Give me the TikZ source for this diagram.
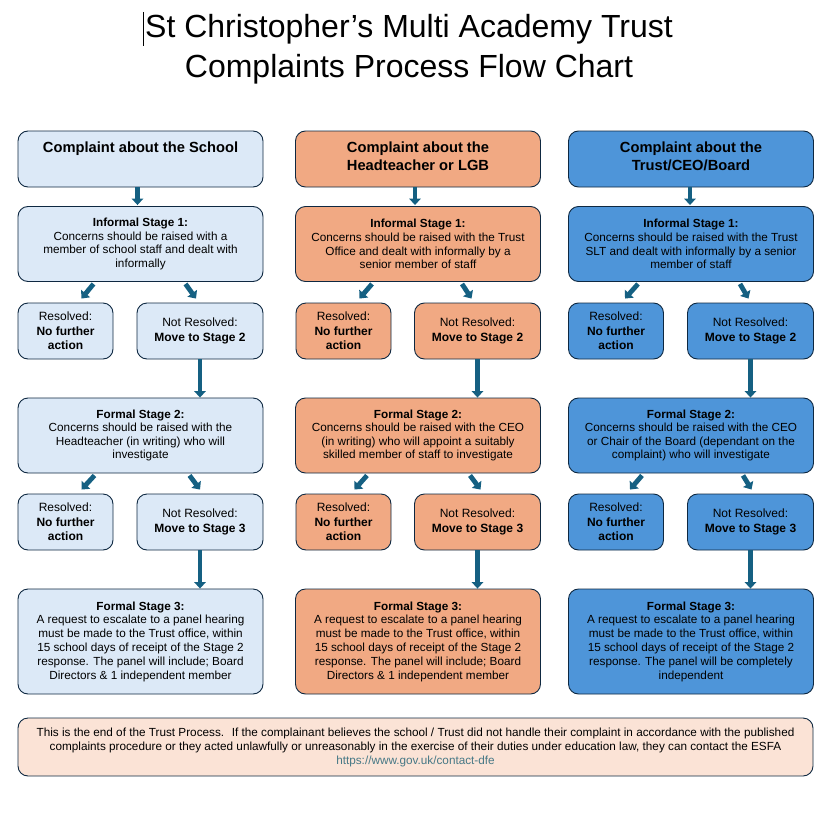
\documentclass[tikz,border=0pt]{standalone}
\usepackage{fontspec}
\setmainfont{Liberation Sans}
\usetikzlibrary{arrows.meta}
\definecolor{edge}{HTML}{0E2841}
\definecolor{lblue}{HTML}{DCE9F7}
\definecolor{orng}{HTML}{F1A983}
\definecolor{mblue}{HTML}{4E95D9}
\definecolor{arr}{HTML}{156082}
\definecolor{peach}{HTML}{FBE3D6}
\definecolor{linkc}{HTML}{467886}
\begin{document}
\begin{tikzpicture}[x=1pt,y=-1pt,
 box/.style={draw=edge, line width=0.9pt, rounded corners=10pt, align=center, inner sep=0pt},
 hdr/.style={box, minimum width=245pt, minimum height=56pt, text depth=6pt, font=\fontsize{14.7}{18}\selectfont\bfseries},
 stg/.style={box, minimum width=245pt, minimum height=75pt, font=\fontsize{11.75}{13.6}\selectfont},
 res/.style={box, minimum width=95pt, minimum height=56pt, font=\fontsize{12}{14.3}\selectfont},
 nres/.style={box, minimum width=126pt, minimum height=56pt, font=\fontsize{12}{14.3}\selectfont},
 fin/.style={box, minimum width=245pt, minimum height=105pt, font=\fontsize{11.75}{13.8}\selectfont},
 barrow/.style={draw=arr, line width=4.8pt, -{Triangle[width=11.5pt,length=6.5pt]}},
 ttl/.style={font=\fontsize{32}{40}\selectfont, inner sep=0pt},
]
\useasboundingbox (0,0) rectangle (835,816);

% title
\node[ttl] (t1) at (409,29) {St Christopher’s Multi Academy Trust};
\node[ttl] (t2) at (409,69) {Complaints Process Flow Chart};
\draw[line width=0.7pt] (143,12) -- (143,46);

% column 1
\node[hdr, fill=lblue] (h1) at (140.5,159) {Complaint about the School\\\mbox{}};
\node[stg, fill=lblue] (s1) at (140.5,244) {\textbf{Informal Stage 1:}\\Concerns should be raised with a\\member of school staff and dealt with\\informally};
\node[res, fill=lblue] (r1) at (65.5,331) {Resolved:\\\textbf{No further}\\\textbf{action}};
\node[nres, fill=lblue] (n1) at (200,331) {Not Resolved:\\\textbf{Move to Stage 2}};
\node[stg, fill=lblue] (f1) at (140.5,435.5) {\textbf{Formal Stage 2:}\\Concerns should be raised with the\\Headteacher (in writing) who will\\investigate};
\node[res, fill=lblue] (q1) at (65.5,522) {Resolved:\\\textbf{No further}\\\textbf{action}};
\node[nres, fill=lblue] (m1) at (200,522) {Not Resolved:\\\textbf{Move to Stage 3}};
\node[fin, fill=lblue] (g1) at (140.5,641.5) {\textbf{Formal Stage 3:}\\A request to escalate to a panel hearing\\must be made to the Trust office, within\\15 school days of receipt of the Stage 2\\response. The panel will include; Board\\Directors \& 1 independent member};

% column 2
\node[hdr, fill=orng] (h2) at (418,159) {Complaint about the\\Headteacher or LGB};
\node[stg, fill=orng] (s2) at (418,244) {\textbf{Informal Stage 1:}\\Concerns should be raised with the Trust\\Office and dealt with informally by a\\senior member of staff};
\node[res, fill=orng] (r2) at (343.5,331) {Resolved:\\\textbf{No further}\\\textbf{action}};
\node[nres, fill=orng] (n2) at (477.5,331) {Not Resolved:\\\textbf{Move to Stage 2}};
\node[stg, fill=orng] (f2) at (418,435.5) {\textbf{Formal Stage 2:}\\Concerns should be raised with the CEO\\(in writing) who will appoint a suitably\\skilled member of staff to investigate};
\node[res, fill=orng] (q2) at (343.5,522) {Resolved:\\\textbf{No further}\\\textbf{action}};
\node[nres, fill=orng] (m2) at (477.5,522) {Not Resolved:\\\textbf{Move to Stage 3}};
\node[fin, fill=orng] (g2) at (418,641.5) {\textbf{Formal Stage 3:}\\A request to escalate to a panel hearing\\must be made to the Trust office, within\\15 school days of receipt of the Stage 2\\response. The panel will include; Board\\Directors \& 1 independent member};

% column 3
\node[hdr, fill=mblue] (h3) at (691,159) {Complaint about the\\Trust/CEO/Board};
\node[stg, fill=mblue] (s3) at (691,244) {\textbf{Informal Stage 1:}\\Concerns should be raised with the Trust\\SLT and dealt with informally by a senior\\member of staff};
\node[res, fill=mblue] (r3) at (616,331) {Resolved:\\\textbf{No further}\\\textbf{action}};
\node[nres, fill=mblue] (n3) at (750.5,331) {Not Resolved:\\\textbf{Move to Stage 2}};
\node[stg, fill=mblue] (f3) at (691,435.5) {\textbf{Formal Stage 2:}\\Concerns should be raised with the CEO\\or Chair of the Board (dependant on the\\complaint) who will investigate};
\node[res, fill=mblue] (q3) at (616,522) {Resolved:\\\textbf{No further}\\\textbf{action}};
\node[nres, fill=mblue] (m3) at (750.5,522) {Not Resolved:\\\textbf{Move to Stage 3}};
\node[fin, fill=mblue] (g3) at (691,641.5) {\textbf{Formal Stage 3:}\\A request to escalate to a panel hearing\\must be made to the Trust office, within\\15 school days of receipt of the Stage 2\\response. The panel will be completely\\independent};

% bottom
\node[box, fill=peach, minimum width=795pt, minimum height=58pt, font=\fontsize{11.75}{14}\selectfont] (end) at (415.5,747) {This is the end of the Trust Process.~ If the complainant believes the school / Trust did not handle their complaint in accordance with the published\\complaints procedure or they acted unlawfully or unreasonably in the exercise of their duties under education law, they can contact the ESFA\\\textcolor{linkc}{https://www.gov.uk/contact-dfe}};

% arrows column 1
\draw[barrow] ([shift={(-3,0)}]h1.south) -- ([shift={(-3,-1)}]s1.north);
\draw[barrow] ([shift={(-47,2)}]s1.south) -- ([shift={(16,-4)}]r1.north);
\draw[barrow] ([shift={(45,2)}]s1.south) -- ([shift={(-4,-4)}]n1.north);
\draw[barrow] (n1.south) -- (n1.south |- f1.north);
\draw[barrow] ([shift={(-46,2)}]f1.south) -- ([shift={(16,-4)}]q1.north);
\draw[barrow] ([shift={(49,2)}]f1.south) -- ([shift={(0,-4)}]m1.north);
\draw[barrow] (m1.south) -- (m1.south |- g1.north);

% arrows column 2
\draw[barrow] ([shift={(-3,0)}]h2.south) -- ([shift={(-3,-1)}]s2.north);
\draw[barrow] ([shift={(-46,2)}]s2.south) -- ([shift={(16,-4)}]r2.north);
\draw[barrow] ([shift={(44,2)}]s2.south) -- ([shift={(-6,-4)}]n2.north);
\draw[barrow] (n2.south) -- (n2.south |- f2.north);
\draw[barrow] ([shift={(-51,2)}]f2.south) -- ([shift={(11,-4)}]q2.north);
\draw[barrow] ([shift={(52,2)}]f2.south) -- ([shift={(3,-4)}]m2.north);
\draw[barrow] (m2.south) -- (m2.south |- g2.north);

% arrows column 3
\draw[barrow] ([shift={(-1,0)}]h3.south) -- ([shift={(-1,-1)}]s3.north);
\draw[barrow] ([shift={(-53,2)}]s3.south) -- ([shift={(9,-4)}]r3.north);
\draw[barrow] ([shift={(49,2)}]s3.south) -- ([shift={(-2,-4)}]n3.north);
\draw[barrow] (n3.south) -- (n3.south |- f3.north);
\draw[barrow] ([shift={(-49,2)}]f3.south) -- ([shift={(14,-4)}]q3.north);
\draw[barrow] ([shift={(52,2)}]f3.south) -- ([shift={(1,-4)}]m3.north);
\draw[barrow] (m3.south) -- (m3.south |- g3.north);
\end{tikzpicture}
\end{document}
